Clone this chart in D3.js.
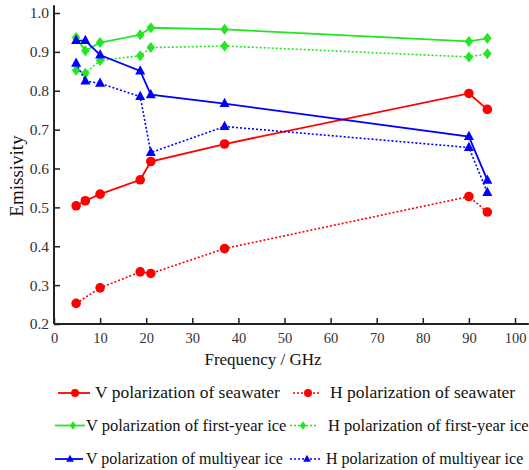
<!DOCTYPE html>
<html><head><meta charset="utf-8">
<script src="https://cdn.jsdelivr.net/npm/d3@7"></script>
<style>body{margin:0;background:#fff}svg{display:block}</style>
</head><body><svg id="c" width="529" height="470"></svg>
<script>
const freqs = [4.8, 6.8, 10, 18.7, 21, 37, 90, 94];
const vSea = [0.504, 0.517, 0.534, 0.571, 0.618, 0.663, 0.793, 0.752];
const hSea = [0.253, null, 0.293, 0.334, 0.330, 0.394, 0.528, 0.488];
const vFY = [0.937, 0.903, 0.924, 0.944, 0.962, 0.958, 0.927, 0.935];
const hFY = [0.853, 0.845, 0.878, 0.890, 0.911, 0.915, 0.887, 0.895];
const vMY = [0.929, 0.929, 0.892, 0.851, 0.790, 0.767, 0.682, 0.570];
const hMY = [0.871, 0.825, 0.819, 0.785, 0.641, 0.708, 0.654, 0.538];
const xTicks = [0,10,20,30,40,50,60,70,80,90,100];
const yTicks = [0.2,0.3,0.4,0.5,0.6,0.7,0.8,0.9,1.0];
const seriesNames = ["V polarization of seawater","H polarization of seawater",
  "V polarization of first-year ice","H polarization of first-year ice",
  "V polarization of multiyear ice","H polarization of multiyear ice"];

const RED="#ff0000", GREEN="#22e622", BLUE="#0000ff";
const series = [
  {name:seriesNames[0], vals:vSea, color:RED, dash:null, shape:"circle"},
  {name:seriesNames[1], vals:hSea, color:RED, dash:"2,2", shape:"circle"},
  {name:seriesNames[2], vals:vFY, color:GREEN, dash:null, shape:"diamond"},
  {name:seriesNames[3], vals:hFY, color:GREEN, dash:"2,2", shape:"diamond"},
  {name:seriesNames[4], vals:vMY, color:BLUE, dash:null, shape:"triangle"},
  {name:seriesNames[5], vals:hMY, color:BLUE, dash:"2,2", shape:"triangle"}
];

const svg = d3.select("#c");
const x = d3.scaleLinear().domain([0,100]).range([54,515]);
const y = d3.scaleLinear().domain([0.2,1.0]).range([324,13]);
const FONT = "'Liberation Serif','Times New Roman',serif";

// axes
const gx = svg.append("g").attr("transform",`translate(0,${y(0.2)})`)
  .call(d3.axisBottom(x).tickValues(xTicks).tickSize(-6).tickSizeOuter(0).tickPadding(9));
gx.select(".domain").remove();
gx.selectAll("line").attr("stroke","#222").attr("stroke-width",1.5);
gx.selectAll("text").attr("font-family",FONT).attr("font-size",14.5).attr("fill","#333");
svg.append("line").attr("x1",x(0)).attr("x2",x(103)).attr("y1",y(0.2)).attr("y2",y(0.2))
  .attr("stroke","#222").attr("stroke-width",2);

const gy = svg.append("g").attr("transform",`translate(${x(0)},0)`)
  .call(d3.axisLeft(y).tickValues(yTicks).tickFormat(d3.format(".1f")).tickSize(-6).tickSizeOuter(0).tickPadding(5));
gy.select(".domain").remove();
gy.selectAll("line").attr("stroke","#222").attr("stroke-width",1.5);
gy.selectAll("text").attr("font-family",FONT).attr("font-size",15.5).attr("fill","#333");
svg.append("line").attr("x1",x(0)).attr("x2",x(0)).attr("y1",y(0.2)).attr("y2",y(1.02))
  .attr("stroke","#222").attr("stroke-width",2);

svg.append("text").attr("x",263).attr("y",365).attr("text-anchor","middle")
  .attr("font-family",FONT).attr("font-size",17).attr("fill","#111").text("Frequency / GHz");
svg.append("text").attr("transform","translate(23,176) rotate(-90)").attr("text-anchor","middle")
  .attr("font-family",FONT).attr("font-size",19).attr("fill","#111").text("Emissivity");

function marker(g, shape, cx, cy, s, color){
  if(shape==="circle") g.append("circle").attr("cx",cx).attr("cy",cy).attr("r",s).attr("fill",color);
  else if(shape==="diamond") g.append("path").attr("d",`M${cx},${cy-s*1.1}L${cx+s*0.85},${cy}L${cx},${cy+s*1.1}L${cx-s*0.85},${cy}Z`).attr("fill",color);
  else g.append("path").attr("d",`M${cx},${cy-s*1.15}L${cx+s},${cy+s*0.7}L${cx-s},${cy+s*0.7}Z`).attr("fill",color);
}

const line = d3.line().defined(d=>d[1]!=null).x(d=>x(d[0])).y(d=>y(d[1]));
series.forEach(s=>{
  const pts = freqs.map((f,i)=>[f,s.vals[i]]).filter(d=>d[1]!=null);
  const g = svg.append("g");
  g.append("path").attr("d",line(pts)).attr("fill","none").attr("stroke",s.color)
    .attr("stroke-width",s.dash?1.6:1.8).attr("stroke-dasharray",s.dash);
  pts.forEach(d=>marker(g,s.shape,x(d[0]),y(d[1]),s.shape==="circle"?4.8:5,s.color));
});

// legend
const legRows = [
  {y:393, fs:17.5, c1:{x1:58,x2:90,m:75,t:95}, c2:{x1:293,x2:320,m:308,t:330}},
  {y:425.5, fs:16.5, c1:{x1:55,x2:85,m:73,t:86}, c2:{x1:290,x2:318,m:303,t:328}},
  {y:459, fs:16, c1:{x1:55,x2:83,m:70,t:86}, c2:{x1:290,x2:320,m:307,t:326}}
];
legRows.forEach((r,i)=>{
  [r.c1,r.c2].forEach((c,j)=>{
    const s = series[i*2+j];
    const g = svg.append("g");
    g.append("line").attr("x1",c.x1).attr("x2",c.x2).attr("y1",r.y).attr("y2",r.y)
      .attr("stroke",s.color).attr("stroke-width",s.dash?1.4:1.8).attr("stroke-dasharray",s.dash);
    marker(g,s.shape,c.m,r.y,s.shape==="circle"?4:3.8,s.color);
    g.append("text").attr("x",c.t).attr("y",r.y+5).attr("font-family",FONT)
      .attr("font-size",r.fs).attr("fill","#111").text(s.name);
  });
});
</script></body></html>
